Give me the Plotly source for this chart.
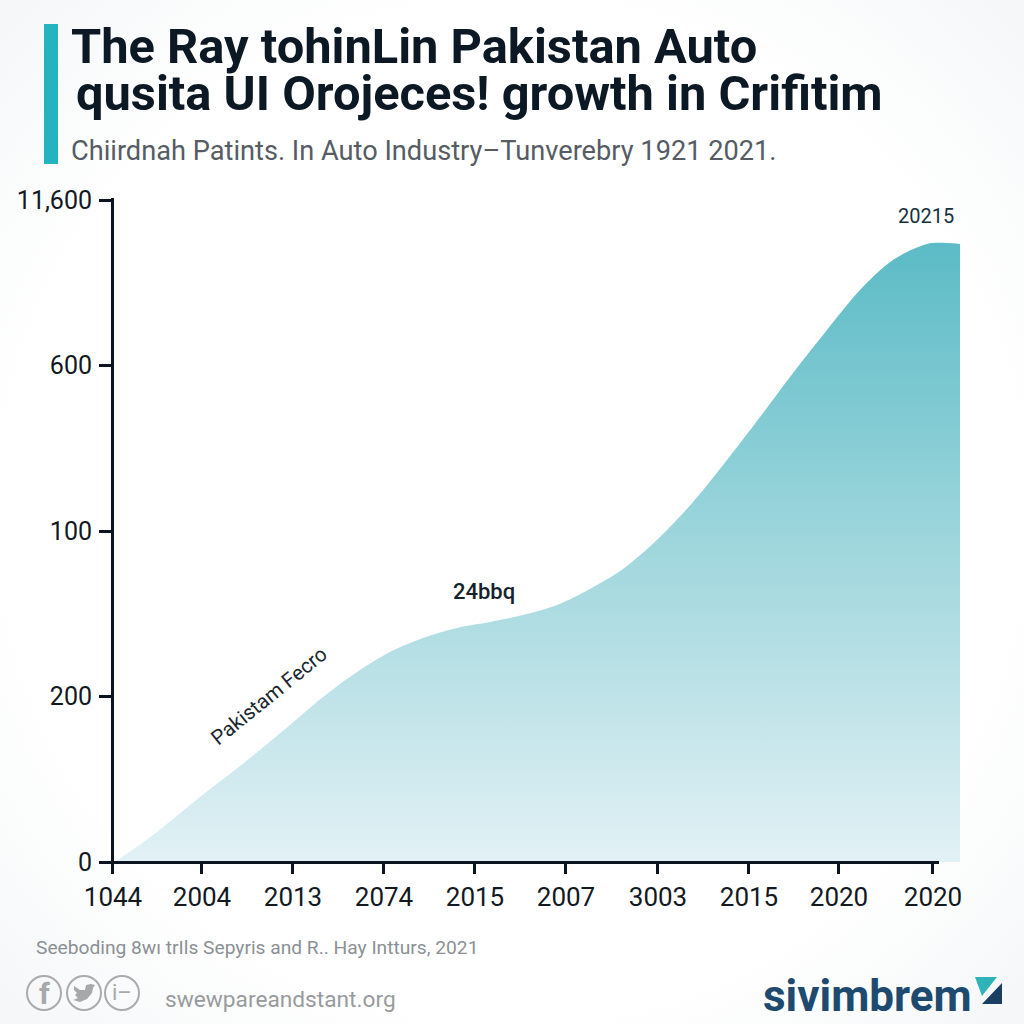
import base64
import plotly.graph_objects as go

# ---- data (x in tick-slot units, y in tick-slot units: the axis labels are not monotonic) ----
x_values = [0.03, 0.451, 0.967, 1.407, 1.956, 2.319, 2.692, 3.055, 3.418, 3.791, 4.154, 4.516, 4.890,
            5.253, 5.615, 6.022, 6.385, 6.758, 7.121, 7.484, 7.857, 8.220, 8.582, 8.956, 9.176, 9.319]
y_values = [0, 0.163, 0.393, 0.580, 0.828, 0.997, 1.148, 1.269, 1.353, 1.414, 1.450, 1.492, 1.553,
            1.650, 1.770, 1.964, 2.175, 2.429, 2.689, 2.955, 3.215, 3.456, 3.637, 3.734, 3.740, 3.734]
x_tick_pos = [0, 0.978, 1.978, 2.978, 3.978, 4.978, 5.989, 6.989, 7.978, 9.011]
x_tick_labels = ["1044", "2004", "2013", "2074", "2015", "2007", "3003", "2015", "2020", "2020"]
y_tick_pos = [0, 1, 2, 3, 4]
y_tick_labels = ["0", "200", "100", "600", "11,600"]

title_lines = ["The Ray tohinLin Pakistan Auto", "qusita UI Orojeces! growth in Crifitim"]
subtitle = "Chiirdnah Patints. In Auto Industry\u2013Tunverebry 1921 2021."
source = "Seeboding 8w\u0131 trIls Sepyris and R.. Hay Intturs, 2021"
website = "swewpareandstant.org"
brand = "sivimbrem"

# ---- frame ----
W, H = 1024, 1024
L, R, T, B = 112, 960, 200, 862
DARK = "#0c1823"
AXIS = "#0b1420"
FONT = "Roboto"

def px(x):
    return (x - L) / (R - L)

def py(y):
    return (B - y) / (B - T)

def path(points):
    return "M" + " L".join(f"{px(a):.5f},{py(b):.5f}" for a, b in points) + " Z"

svg_bg = (
    '<svg xmlns="http://www.w3.org/2000/svg" width="1024" height="1024">'
    '<defs><radialGradient id="g" cx="50%" cy="50%" r="72%">'
    '<stop offset="0%" stop-color="#ffffff"/><stop offset="68%" stop-color="#ffffff"/>'
    '<stop offset="100%" stop-color="#f4f6f7"/></radialGradient></defs>'
    '<rect width="1024" height="1024" fill="url(#g)"/></svg>'
)
bg_uri = "data:image/svg+xml;base64," + base64.b64encode(svg_bg.encode()).decode()

fig = go.Figure()
fig.add_trace(go.Scatter(
    x=x_values, y=y_values, mode="lines", fill="tozeroy",
    line=dict(width=0, shape="spline", smoothing=0.9, color="rgba(0,0,0,0)"),
    fillgradient=dict(type="vertical",
                      colorscale=[[0, "#e2f1f5"], [0.5, "#a0d7dd"], [1, "#5bbbc6"]]),
    hoverinfo="skip", showlegend=False, cliponaxis=False,
))

def text(x, y, s, size, color, anchor="left", weight=400, angle=0):
    fig.add_annotation(xref="paper", yref="paper", x=px(x), y=py(y), text=s, showarrow=False,
                       xanchor=anchor, yanchor="middle", textangle=angle,
                       font=dict(family=FONT, size=size, color=color, weight=weight),
                       borderpad=0, align="left")

text(70, 46, title_lines[0], 48.8, DARK, weight=700)
text(75, 94, title_lines[1], 48.8, DARK, weight=700)
text(70, 151, subtitle, 27.2, "#555c64")
text(926, 216, "20215", 20, "#15303d", anchor="center")
text(484, 591, "24bbq", 22, "#14222c", anchor="center", weight=500)
text(269, 696, "Pakistam Fecro", 20.5, "#1c2730", anchor="center", angle=-39)
text(35, 947, source, 19.2, "#8b9095")
text(164, 999, website, 22.7, "#989b9e")
text(762, 996, brand, 44, "#1d4a6e", weight=700)

# social icons
text(44, 994, "f", 30, "#a6a8aa", anchor="center", weight=700)
text(122, 992, "i\u2013", 22, "#a6a8aa", anchor="center")

shapes = [
    dict(type="rect", xref="paper", yref="paper", x0=px(44), x1=px(58), y0=py(24), y1=py(164),
         fillcolor="#23b4c0", line=dict(width=0), layer="above"),
    # axis lines: x stops short of the area's right edge
    dict(type="line", xref="paper", yref="paper", x0=px(112), x1=px(939), y0=py(862.5), y1=py(862.5),
         line=dict(color=AXIS, width=3), layer="above"),
    dict(type="line", xref="paper", yref="paper", x0=px(112.5), x1=px(112.5), y0=py(874), y1=py(198),
         line=dict(color=AXIS, width=3), layer="above"),
    # brand mark
    dict(type="path", xref="paper", yref="paper", path=path([(975, 977), (997, 977), (982, 996)]),
         fillcolor="#2fb3b8", line=dict(width=0), layer="above"),
    dict(type="path", xref="paper", yref="paper", path=path([(1002, 983), (1002, 1004), (982, 1004)]),
         fillcolor="#1b3f60", line=dict(width=0), layer="above"),
    # bird
    dict(type="path", xref="paper", yref="paper",
         path=path([(74, 986), (80, 990), (85, 990), (86, 985), (91, 984), (95, 985), (93, 988), (92, 993),
                    (87, 999), (80, 1002), (73, 1000), (78, 998), (75, 995), (77, 993), (74, 990)]),
         fillcolor="#a6a8aa", line=dict(width=0), layer="above"),
]
for cx in (44, 84, 122):
    shapes.append(dict(type="circle", xref="paper", yref="paper",
                       x0=px(cx - 17), x1=px(cx + 17), y0=py(1010), y1=py(976),
                       line=dict(color="#a9abad", width=2), layer="above"))

fig.update_layout(
    width=W, height=H, autosize=False,
    margin=dict(l=L, r=W - R, t=T, b=H - B),
    paper_bgcolor="#ffffff", plot_bgcolor="rgba(0,0,0,0)",
    shapes=shapes,
    images=[dict(source=bg_uri, xref="paper", yref="paper", x=px(0), y=py(0), sizex=px(W) - px(0),
                 sizey=py(0) - py(H), xanchor="left", yanchor="top", layer="below", sizing="stretch")],
    xaxis=dict(range=[0, (R - L) / 91.0], tickmode="array", tickvals=x_tick_pos, ticktext=x_tick_labels,
               ticks="outside", ticklen=11, tickwidth=3, tickcolor=AXIS, showgrid=False, zeroline=False,
               showline=False, tickfont=dict(family=FONT, size=26, color="#12191f"), ticklabelstandoff=1,
               ticklabelshift=1),
    yaxis=dict(range=[0, 4], tickmode="array", tickvals=y_tick_pos, ticktext=y_tick_labels,
               ticks="outside", ticklen=12, tickwidth=3, tickcolor=AXIS, showgrid=False, zeroline=False,
               showline=False, tickfont=dict(family=FONT, size=25, color="#12191f"), ticklabelstandoff=2),
)

fig.write_html("out.html", config=dict(displayModeBar=False),
               post_script="document.body.style.margin='0';document.body.style.overflow='hidden';")
